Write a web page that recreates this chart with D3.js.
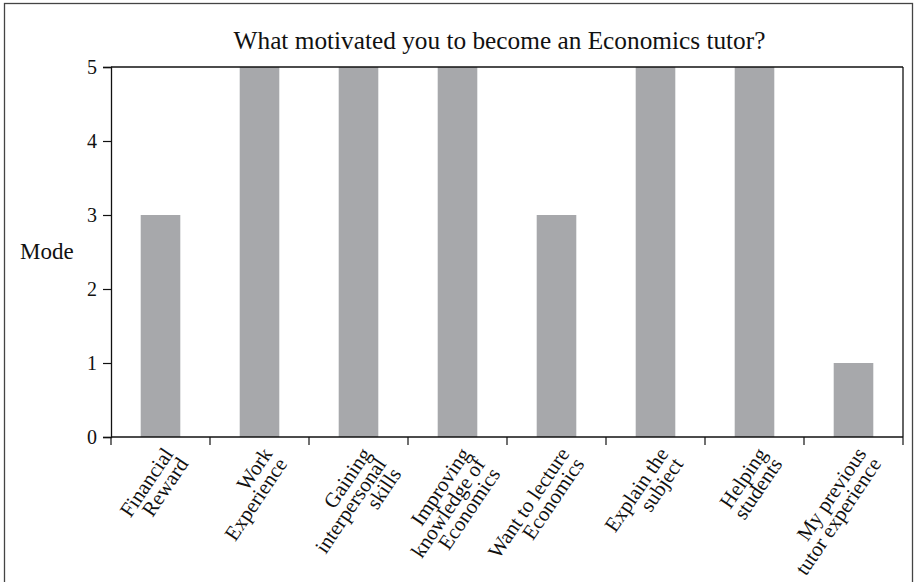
<!DOCTYPE html>
<html>
<head>
<meta charset="utf-8">
<script src="https://cdn.jsdelivr.net/npm/d3@7"></script>
<style>
  body { margin: 0; background: #fff; }
  text { font-family: "Liberation Serif", "DejaVu Serif", serif; fill: #111; }
</style>
</head>
<body>
<div id="chart"></div>
<script>
const categories = [
    ["Financial", "Reward"],
    ["Work", "Experience"],
    ["Gaining", "interpersonal", "skills"],
    ["Improving", "knowledge of", "Economics"],
    ["Want to lecture", "Economics"],
    ["Explain the", "subject"],
    ["Helping", "students"],
    ["My previous", "tutor experience"]
];
const modeValues = [3, 5, 5, 5, 3, 5, 5, 1];
const yTicks = [0, 1, 2, 3, 4, 5];
const title = "What motivated you to become an Economics tutor?";

const width = 916, height = 582;
const margin = { top: 67, right: 13, bottom: 145, left: 111 };
const w = width - margin.left - margin.right;
const h = height - margin.top - margin.bottom;

const root = d3.select("#chart").append("svg")
    .attr("width", width)
    .attr("height", height);

// outer frame (bottom edge runs off the page)
root.append("rect")
    .attr("x", 4.5).attr("y", 3.5)
    .attr("width", 908).attr("height", 600)
    .attr("fill", "none")
    .attr("stroke", "#444")
    .attr("stroke-width", 1.3);

const svg = root.append("g")
    .attr("transform", "translate(" + margin.left + "," + margin.top + ")");

const x = d3.scaleBand()
    .domain(d3.range(categories.length))
    .range([0, w])
    .padding(0);

const y = d3.scaleLinear()
    .domain([0, 5])
    .range([h, 0]);

// bars
svg.selectAll(".bar")
    .data(modeValues)
    .join("rect")
    .attr("class", "bar")
    .attr("x", (d, i) => x(i) + x.bandwidth() * 0.3)
    .attr("width", x.bandwidth() * 0.4)
    .attr("y", d => y(d))
    .attr("height", d => h - y(d))
    .attr("fill", "#a7a8ab");

// plot frame: top and right lines
svg.append("line")
    .attr("x1", 0).attr("x2", w).attr("y1", 0).attr("y2", 0)
    .attr("stroke", "#111").attr("stroke-width", 1.3);
svg.append("line")
    .attr("x1", w).attr("x2", w).attr("y1", 0).attr("y2", h)
    .attr("stroke", "#111").attr("stroke-width", 1.3);

// y axis
const yAxis = svg.append("g")
    .call(d3.axisLeft(y).tickValues(yTicks).tickSize(8).tickPadding(6).tickFormat(d3.format("d")));
yAxis.select(".domain").attr("stroke", "#111").attr("stroke-width", 1.3);
yAxis.selectAll(".tick line").attr("stroke", "#111").attr("stroke-width", 1.2);
yAxis.selectAll(".tick text")
    .style("font-family", "Liberation Serif, serif")
    .style("font-size", "20px")
    .attr("fill", "#222");

// x axis: ticks at category boundaries
const xAxis = svg.append("g")
    .attr("transform", "translate(0," + h + ")");
xAxis.append("line")
    .attr("x1", 0).attr("x2", w)
    .attr("stroke", "#111").attr("stroke-width", 1.3);
const boundaries = d3.range(categories.length + 1);
xAxis.selectAll(".xtick")
    .data(boundaries)
    .join("line")
    .attr("class", "xtick")
    .attr("x1", i => i < categories.length ? x(i) : w)
    .attr("x2", i => i < categories.length ? x(i) : w)
    .attr("y1", 0).attr("y2", 8)
    .attr("stroke", "#111").attr("stroke-width", 1.2);

// rotated multi-line category labels, right aligned
const lineH = 18;
categories.forEach((lines, i) => {
    const g = xAxis.append("g")
        .attr("transform", "translate(" + (x(i) + x.bandwidth() / 2 + 2) + ",9) rotate(-56)");
    const t = g.append("text")
        .style("font-size", "21px")
        .attr("fill", "#222")
        .attr("text-anchor", "end");
    lines.forEach((s, k) => {
        t.append("tspan")
            .attr("x", 0)
            .attr("y", k * lineH + 14)
            .text(s);
    });
});

// y label
svg.append("text")
    .attr("x", -91)
    .attr("y", h / 2 + 7)
    .style("font-size", "23px")
    .attr("fill", "#222")
    .text("Mode");

// title
svg.append("text")
    .attr("x", 499.5 - margin.left)
    .attr("y", 49 - margin.top)
    .attr("text-anchor", "middle")
    .style("font-size", "25.3px")
    .attr("fill", "#222")
    .text(title);
</script>
</body>
</html>
